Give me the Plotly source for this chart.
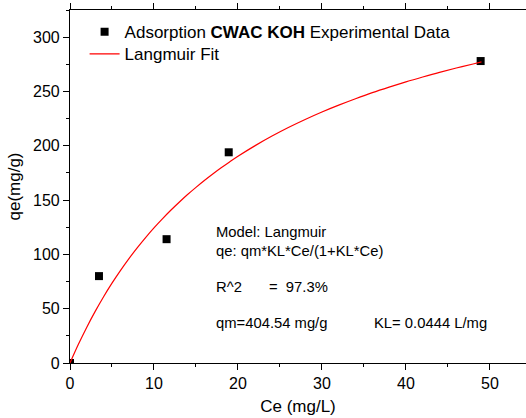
import plotly.graph_objects as go

# Experimental data
ce_data = [0.0, 3.45, 11.5, 18.9, 48.9]
qe_data = [0.0, 80, 114, 194, 278]

# Langmuir fit curve
ce_fit = [0, 1, 2, 3, 4, 5, 6, 7, 8, 9, 10, 11, 12, 13, 14, 15, 16, 17, 18, 19, 20,
          22, 24, 26, 28, 30, 32, 34, 36, 38, 40, 42, 44, 46, 48, 49]
qe_fit = [0, 17.2, 33.0, 47.5, 61.0, 73.5, 85.1, 95.9, 106.0, 115.5, 124.4, 132.7, 140.6,
          148.0, 155.1, 161.7, 168.0, 174.0, 179.7, 185.1, 190.3,
          199.9, 208.7, 216.8, 224.2, 231.1, 237.4, 243.3, 248.9, 254.0, 258.8, 263.3,
          267.6, 271.6, 275.3, 277.2]

x_ticks = [0, 10, 20, 30, 40, 50]
y_ticks = [0, 50, 100, 150, 200, 250, 300]

FONT = "Liberation Sans, Arial, sans-serif"

fig = go.Figure()
fig.add_trace(go.Scatter(
    x=ce_data, y=qe_data, mode="markers",
    marker=dict(symbol="square", size=8, color="black"),
    name="Adsorption <b>CWAC KOH</b> Experimental Data",
    legend="legend",
))
fig.add_trace(go.Scatter(
    x=ce_fit, y=qe_fit, mode="lines",
    line=dict(color="red", width=1.2, shape="spline"),
    name="Langmuir Fit",
    legend="legend2",
))

ann_font = dict(family=FONT, size=14.8, color="black")
notes = [
    (17.1, 120.4, "Model: Langmuir"),
    (17.1, 103.5, "qe: qm*KL*Ce/(1+KL*Ce)"),
    (17.1, 70.0, "R^2"),
    (23.4, 70.0, "=  97.3%"),
    (17.1, 36.8, "qm=404.54 mg/g"),
    (35.95, 36.8, "KL= 0.0444 L/mg"),
]
for x, y, t in notes:
    fig.add_annotation(x=x, y=y, text=t, showarrow=False, xanchor="left",
                       yanchor="middle", font=ann_font, xref="x", yref="y")

leg_common = dict(xanchor="left", yanchor="top", bgcolor="rgba(0,0,0,0)",
                  font=dict(family=FONT, size=17))

fig.update_layout(
    width=526, height=418,
    margin=dict(l=70, r=0, t=10, b=55),
    paper_bgcolor="white", plot_bgcolor="white",
    font=dict(family=FONT, size=16, color="black"),
    showlegend=True,
    legend=dict(x=0.032, y=0.988, **leg_common),
    legend2=dict(x=0.032, y=0.9255, **leg_common),
    xaxis=dict(
        range=[0, 54.3], tickvals=x_ticks, showgrid=False, zeroline=False,
        showline=True, linecolor="black", linewidth=1.2, mirror="allticks",
        ticks="outside", ticklen=6, tickcolor="black", tickwidth=1,
        minor=dict(dtick=5, tick0=5, ticks="outside", ticklen=3, tickcolor="black"),
        title=dict(text="Ce (mg/L)", font=dict(size=17), standoff=8),
        tickfont=dict(size=16),
    ),
    yaxis=dict(
        range=[0, 325], tickvals=y_ticks, showgrid=False, zeroline=False,
        showline=True, linecolor="black", linewidth=1.2,
        ticks="outside", ticklen=6, tickcolor="black", tickwidth=1,
        minor=dict(dtick=25, tick0=25, ticks="outside", ticklen=3, tickcolor="black"),
        title=dict(text="qe(mg/g)", font=dict(size=17), standoff=8),
        tickfont=dict(size=16),
    ),
)

fig.write_html("out.html")
